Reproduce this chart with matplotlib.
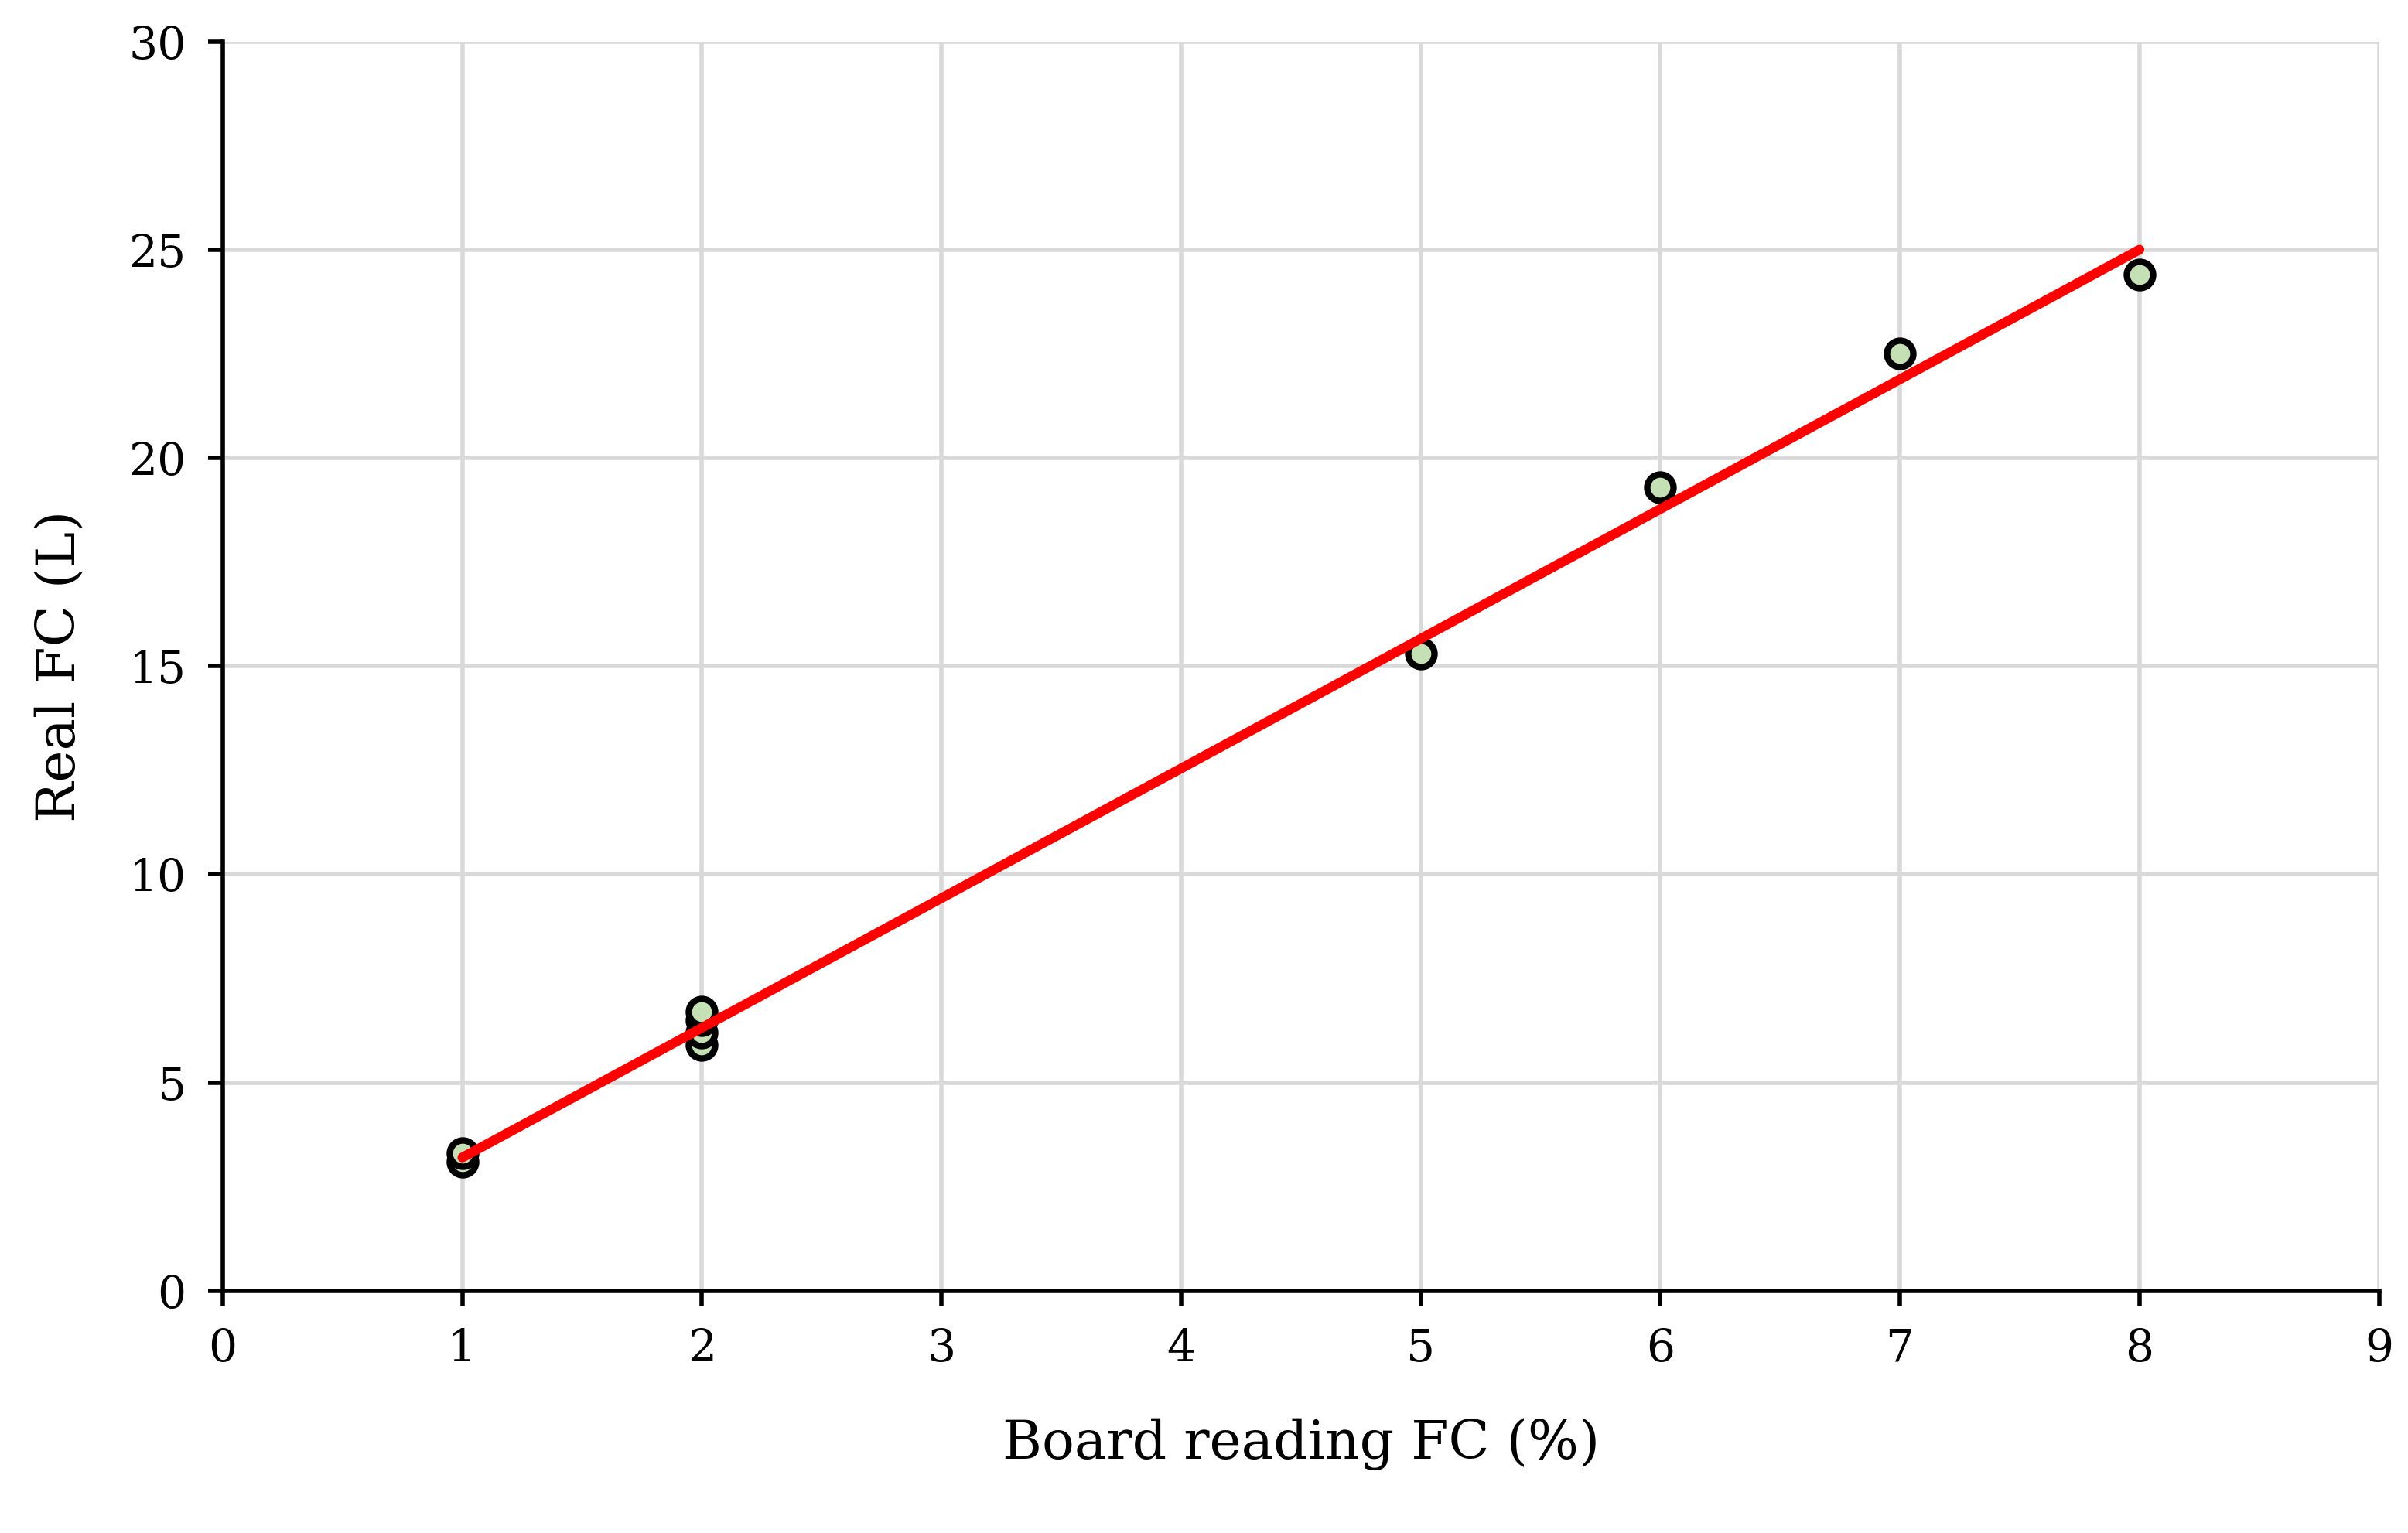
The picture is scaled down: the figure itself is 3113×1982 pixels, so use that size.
import matplotlib
matplotlib.use("Agg")
import matplotlib.pyplot as plt

board = [1, 1, 2, 2, 2, 2, 5, 6, 7, 8]
real = [3.1, 3.3, 5.9, 6.2, 6.5, 6.7, 15.3, 19.3, 22.5, 24.4]
fit_x = [1, 8]
fit_y = [3.2, 25.0]

plt.rcParams['font.family'] = ['DejaVu Serif', 'Liberation Serif']
fig = plt.figure(figsize=(15.565, 9.91), dpi=200)
ax = fig.add_axes([0.0925, 0.158, 0.8955, 0.815])

ax.scatter(board, real, s=150, facecolor='#c5e0b4', edgecolor='black', linewidth=3, zorder=3)
ax.plot(fit_x, fit_y, color='#ff0000', linewidth=4.5, solid_capstyle='round', zorder=4)

ax.set_xlim(0, 9)
ax.set_ylim(0, 30)
ax.set_xticks(range(0, 10))
ax.set_yticks(range(0, 31, 5))
ax.grid(True, color='#d9d9d9', linewidth=2)
ax.set_axisbelow(True)
for s in ['top', 'right']:
    ax.spines[s].set_visible(False)
for s in ['left', 'bottom']:
    ax.spines[s].set_linewidth(2)
ax.tick_params(labelsize=21, width=2, length=7, direction='out', pad=10)
ax.set_xlabel('Board reading FC (%)', fontsize=25, labelpad=22)
ax.set_ylabel('Real FC (L)', fontsize=25, labelpad=20)

fig.savefig('out.png', dpi=200)
